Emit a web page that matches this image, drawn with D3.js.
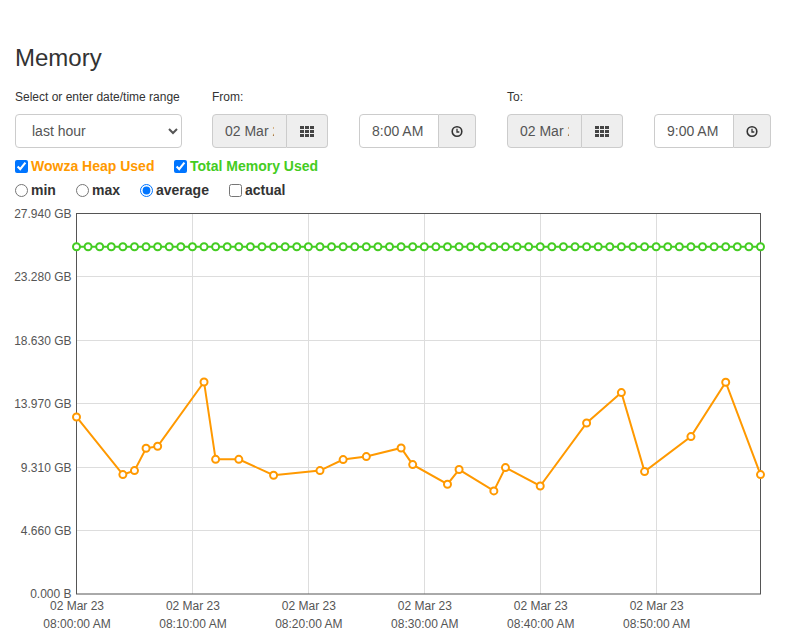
<!DOCTYPE html>
<html>
<head>
<meta charset="utf-8">
<script src="https://cdn.jsdelivr.net/npm/d3@7"></script>
<style>
body { margin: 0; font-family: "Liberation Sans", Arial, Helvetica, sans-serif; color: #333; width: 787px; height: 634px; overflow: hidden; position: relative; background: #fff; }
.abs { position: absolute; }
h3 { position: absolute; left: 15px; top: 43px; margin: 0; font-size: 24px; font-weight: normal; line-height: 30px; }
.lbl { font-size: 12px; }
select.fc { position: absolute; box-sizing: border-box; height: 34px; padding: 6px 12px; font-size: 14px; font-family: inherit; color: #555; border: 1px solid #ccc; border-radius: 4px; background: #fff; }
.ig { position: absolute; height: 34px; display: flex; }
.ig input { box-sizing: border-box; height: 34px; padding: 6px 12px; font-size: 14px; font-family: inherit; color: #555; border: 1px solid #ccc; border-radius: 4px 0 0 4px; margin: 0; outline: none; }
.ig input.ro { background: #eee; }
.ig .btn { box-sizing: border-box; height: 34px; border: 1px solid #ccc; border-left: none; border-radius: 0 4px 4px 0; background: #eee; display: flex; align-items: center; justify-content: center; }
.chk { position: absolute; font-size: 14px; font-weight: bold; display: flex; align-items: center; white-space: nowrap; }
.chk input { margin: 0 3px 0 0; width: 13px; height: 13px; }
svg.chart { position: absolute; left: 0; top: 0; }
.axis text { font-family: "Liberation Sans", Arial, sans-serif; font-size: 12px; fill: #555; }
</style>
</head>
<body>
<h3>Memory</h3>
<div class="abs lbl" style="left:15px;top:90px;">Select or enter date/time range</div>
<div class="abs lbl" style="left:212px;top:90px;">From:</div>
<div class="abs lbl" style="left:507px;top:90px;">To:</div>

<select class="fc" style="left:15px;top:114px;width:167px;">
  <option>last hour</option>
</select>

<div class="ig" style="left:212px;top:114px;">
  <input class="ro" readonly value="02 Mar 2023" style="width:75px;">
  <div class="btn" style="width:41px;"><svg width="14" height="11" class="grid"></svg></div>
</div>
<div class="ig" style="left:359px;top:114px;">
  <input value="8:00 AM" style="width:80px;">
  <div class="btn" style="width:37px;"><svg width="14" height="14" class="clock"></svg></div>
</div>
<div class="ig" style="left:507px;top:114px;">
  <input class="ro" readonly value="02 Mar 2023" style="width:75px;">
  <div class="btn" style="width:41px;"><svg width="14" height="11" class="grid"></svg></div>
</div>
<div class="ig" style="left:654px;top:114px;">
  <input value="9:00 AM" style="width:80px;">
  <div class="btn" style="width:37px;"><svg width="14" height="14" class="clock"></svg></div>
</div>

<label class="chk" style="left:15px;top:158px;color:#ff9900;"><input type="checkbox" checked>Wowza Heap Used</label>
<label class="chk" style="left:174px;top:158px;color:#44cc22;"><input type="checkbox" checked>Total Memory Used</label>

<label class="chk" style="left:15px;top:182px;"><input type="radio" name="agg">min</label>
<label class="chk" style="left:76px;top:182px;"><input type="radio" name="agg">max</label>
<label class="chk" style="left:140px;top:182px;"><input type="radio" name="agg" checked>average</label>
<label class="chk" style="left:229px;top:182px;"><input type="checkbox">actual</label>

<svg class="chart" width="787" height="634"></svg>

<script>
// minutes after 08:00 on 02 Mar 2023
var heapMinutes = [0, 4, 5, 6, 7, 11, 12, 14, 17, 21, 23, 25, 28, 29, 32, 33, 36, 37, 40, 44, 47, 49, 53, 56, 59];
// Wowza heap used, GB
var heapValues = [13.00, 8.77, 9.06, 10.70, 10.85, 15.57, 9.89, 9.89, 8.72, 9.06, 9.87, 10.09, 10.72, 9.50, 8.06, 9.14, 7.57, 9.28, 7.93, 12.56, 14.79, 8.99, 11.56, 15.55, 8.77];

var totalMinutes = [0, 1, 2, 3, 4, 5, 6, 7, 8, 9, 10, 11, 12, 13, 14, 15, 16, 17, 18, 19,
    20, 21, 22, 23, 24, 25, 26, 27, 28, 29, 30, 31, 32, 33, 34, 35, 36, 37, 38, 39,
    40, 41, 42, 43, 44, 45, 46, 47, 48, 49, 50, 51, 52, 53, 54, 55, 56, 57, 58, 59];
// total memory used, GB
var totalValues = [25.5, 25.5, 25.5, 25.5, 25.5, 25.5, 25.5, 25.5, 25.5, 25.5, 25.5, 25.5, 25.5, 25.5, 25.5, 25.5, 25.5, 25.5, 25.5, 25.5,
    25.5, 25.5, 25.5, 25.5, 25.5, 25.5, 25.5, 25.5, 25.5, 25.5, 25.5, 25.5, 25.5, 25.5, 25.5, 25.5, 25.5, 25.5, 25.5, 25.5,
    25.5, 25.5, 25.5, 25.5, 25.5, 25.5, 25.5, 25.5, 25.5, 25.5, 25.5, 25.5, 25.5, 25.5, 25.5, 25.5, 25.5, 25.5, 25.5, 25.5];

var yTicks = [0, 4.66, 9.31, 13.97, 18.63, 23.28, 27.94];
var xTickMinutes = [0, 10, 20, 30, 40, 50];

function toDate(m) { return new Date(2023, 2, 2, 8, m, 0); }

var heap = heapMinutes.map(function(m, i) { return {t: toDate(m), v: heapValues[i]}; });
var total = totalMinutes.map(function(m, i) { return {t: toDate(m), v: totalValues[i]}; });

var margin = {top: 213.5, left: 76.5},
    width = 684,
    height = 380.5;

var x = d3.scaleTime().domain([toDate(0), toDate(59)]).range([0, width]);
var y = d3.scaleLinear().domain([0, 27.94]).range([height, 0]);

var svg = d3.select("svg.chart")
  .append("g")
    .attr("transform", "translate(" + margin.left + "," + margin.top + ")");

// grid
svg.append("g").selectAll("line").data(yTicks.slice(1, -1)).enter().append("line")
    .attr("x1", 0).attr("x2", width)
    .attr("y1", function(d) { return Math.round(y(d)); })
    .attr("y2", function(d) { return Math.round(y(d)); })
    .style("stroke", "#ddd");
svg.append("g").selectAll("line").data(xTickMinutes.slice(1)).enter().append("line")
    .attr("y1", 0).attr("y2", height)
    .attr("x1", function(d) { return Math.round(x(toDate(d))); })
    .attr("x2", function(d) { return Math.round(x(toDate(d))); })
    .style("stroke", "#ddd");

// border
svg.append("rect")
    .attr("width", width).attr("height", height)
    .style("fill", "none").style("stroke", "#555");

// axes
var fmtDay = d3.timeFormat("%d %b %y"), fmtTime = d3.timeFormat("%I:%M:%S %p");

var yAxis = d3.axisLeft(y).tickValues(yTicks).tickSize(0).tickPadding(5)
    .tickFormat(function(d) { return d === 0 ? "0.000 B" : d3.format(".3f")(d) + " GB"; });
svg.append("g").attr("class", "axis").call(yAxis)
    .call(function(g) { g.select(".domain").remove(); });

var xAxis = d3.axisBottom(x).tickValues(xTickMinutes.map(toDate)).tickSize(0).tickFormat("");
var xg = svg.append("g").attr("class", "axis")
    .attr("transform", "translate(0," + height + ")")
    .call(xAxis);
xg.select(".domain").remove();
xg.selectAll(".tick").each(function(d) {
    var t = d3.select(this).append("text").attr("text-anchor", "middle");
    t.append("tspan").attr("x", 0).attr("y", 16).text(fmtDay(d));
    t.append("tspan").attr("x", 0).attr("y", 34).text(fmtTime(d));
});

// series
var line = d3.line()
    .x(function(d) { return x(d.t); })
    .y(function(d) { return y(d.v); });

function drawSeries(data, color) {
    svg.append("path")
        .attr("d", line(data))
        .style("fill", "none").style("stroke", color).style("stroke-width", 2);
    svg.append("g").selectAll("circle").data(data).enter().append("circle")
        .attr("cx", function(d) { return x(d.t); })
        .attr("cy", function(d) { return y(d.v); })
        .attr("r", 3.5)
        .style("fill", "#fff").style("stroke", color).style("stroke-width", 2);
}
drawSeries(heap, "#ff9900");
drawSeries(total, "#44cc22");

// button icons
d3.selectAll("svg.grid").each(function() {
    var g = d3.select(this);
    [0, 1, 2].forEach(function(r) {
        [0, 1, 2].forEach(function(c) {
            g.append("rect").attr("x", c * 5).attr("y", r * 4).attr("width", 4).attr("height", 3).attr("fill", "#444");
        });
    });
});
d3.selectAll("svg.clock").each(function() {
    var g = d3.select(this);
    g.append("circle").attr("cx", 7).attr("cy", 7.5).attr("r", 4.8).attr("fill", "none").attr("stroke", "#333").attr("stroke-width", 1.6);
    g.append("path").attr("d", "M7,4.8V8H9.3").attr("fill", "none").attr("stroke", "#333").attr("stroke-width", 1.3);
});
</script>
</body>
</html>
